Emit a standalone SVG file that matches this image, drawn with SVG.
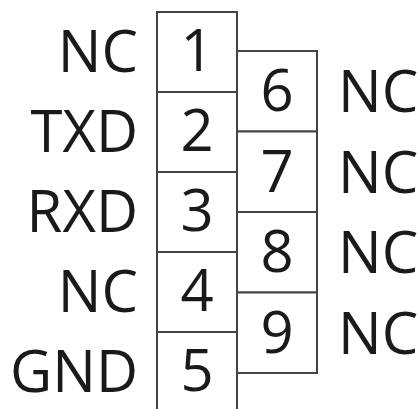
<svg xmlns="http://www.w3.org/2000/svg" width="420" height="409" viewBox="0 0 420 409">
<style>
.box{fill:#fff;stroke:#444;stroke-width:2}
.t{font-family:"Open Sans","Noto Sans",sans-serif;font-size:58px;fill:#1a1a1a}
.m{text-anchor:middle}
.e{text-anchor:end}
</style>
<rect width="420" height="409" fill="#fff"/>
<g id="pin1"><rect class="box" x="157" y="12" width="80" height="80"/><text class="t m" x="197" y="71">1</text><text class="t e" x="138" y="72">NC</text></g>
<g id="pin2"><rect class="box" x="157" y="92" width="80" height="80"/><text class="t m" x="197" y="151">2</text><text class="t e" x="138" y="152">TXD</text></g>
<g id="pin3"><rect class="box" x="157" y="172" width="80" height="80"/><text class="t m" x="197" y="231">3</text><text class="t e" x="138" y="232">RXD</text></g>
<g id="pin4"><rect class="box" x="157" y="252" width="80" height="80"/><text class="t m" x="197" y="311">4</text><text class="t e" x="138" y="312">NC</text></g>
<g id="pin5"><rect class="box" x="157" y="332" width="80" height="100"/><text class="t m" x="197" y="391">5</text><text class="t e" x="138" y="392">GND</text></g>
<g id="pin6"><rect class="box" x="237" y="51" width="80" height="80.5"/><text class="t m" x="277" y="111">6</text><text class="t" x="338" y="112">NC</text></g>
<g id="pin7"><rect class="box" x="237" y="131.5" width="80" height="80.5"/><text class="t m" x="277" y="191.5">7</text><text class="t" x="338" y="192.5">NC</text></g>
<g id="pin8"><rect class="box" x="237" y="212" width="80" height="80.5"/><text class="t m" x="277" y="272">8</text><text class="t" x="338" y="273">NC</text></g>
<g id="pin9"><rect class="box" x="237" y="292.5" width="80" height="80.5"/><text class="t m" x="277" y="352.5">9</text><text class="t" x="338" y="353.5">NC</text></g>
<g id="connectors"></g>
</svg>
